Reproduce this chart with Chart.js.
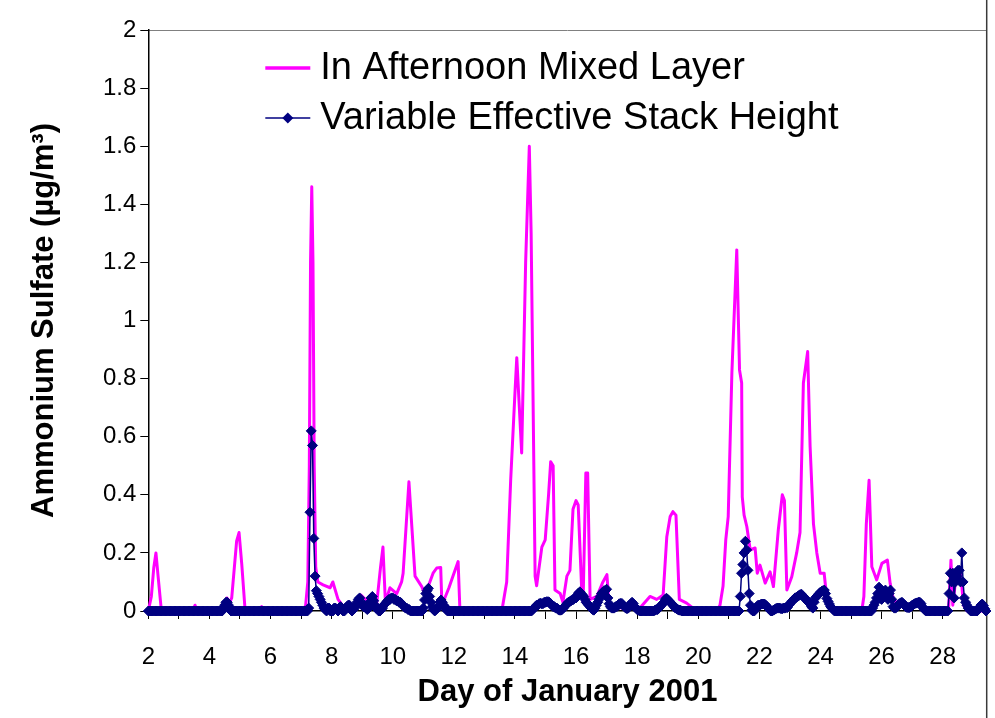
<!DOCTYPE html>
<html><head><meta charset="utf-8">
<script src="https://cdn.jsdelivr.net/npm/chart.js@4.4.1/dist/chart.umd.min.js"></script>
<style>html,body{margin:0;padding:0;background:#fff;}canvas{display:block;}</style>
</head><body>
<canvas id="c" width="995" height="718"></canvas>
<script>
// ---- text ----
const seriesNames = ['In Afternoon Mixed Layer', 'Variable Effective Stack Height'];
const xTitle = 'Day of January 2001';
const yTitle = 'Ammonium Sulfate (\u00B5g/m\u00B3)';
const xTickLabels = [2, 4, 6, 8, 10, 12, 14, 16, 18, 20, 22, 24, 26, 28];
const yTickLabels = ['0', '0.2', '0.4', '0.6', '0.8', '1', '1.2', '1.4', '1.6', '1.8', '2'];
const xRange = [2, 29.44];
const yRange = [0, 2];
const yStep = 0.2;

// ---- series 1: In Afternoon Mixed Layer (day, value) ----
const mixedDays = [2.00,2.10,2.18,2.25,2.32,2.42,2.50,3.45,3.53,3.60,4.42,4.57,4.67,4.73,4.89,4.97,5.06,5.17,5.64,5.71,5.78,
  7.08,7.15,7.22,7.27,7.31,7.35,7.39,7.43,7.48,7.55,7.72,7.95,8.04,8.21,8.35,8.60,8.85,8.96,9.10,9.30,9.48,9.60,9.68,9.76,9.91,
  10.13,10.29,10.34,10.53,10.73,10.95,11.06,11.32,11.44,11.57,11.61,11.84,11.97,12.14,12.20,12.55,12.62,12.69,
  13.57,13.73,13.86,14.00,14.06,14.22,14.35,14.47,14.53,14.66,14.71,14.88,14.99,15.10,15.17,15.25,15.31,15.48,15.57,15.70,15.80,
  15.90,16.00,16.07,16.19,16.23,16.32,16.38,16.46,16.68,16.88,17.01,17.08,17.50,18.09,18.42,18.64,18.85,18.97,19.08,19.17,19.27,
  19.38,19.62,19.83,20.06,20.60,20.71,20.81,20.90,20.98,21.10,21.26,21.35,21.42,21.44,21.50,21.59,21.70,21.86,21.93,22.02,22.19,
  22.35,22.46,22.62,22.75,22.82,22.90,23.06,23.22,23.33,23.44,23.58,23.66,23.77,23.88,23.99,24.12,24.21,24.35,24.50,
  25.35,25.42,25.50,25.59,25.68,25.84,26.01,26.19,26.28,26.39,26.61,27.26,27.40,28.19,28.27,28.33,28.46,28.57,28.68,28.80,29.44];
const mixedValues = [0,0.05,0.15,0.20,0.12,0.01,0,0,0.02,0,0,0.045,0.03,0.045,0.24,0.27,0.16,0,0,0.015,0,
  0,0.02,0.10,0.50,1.20,1.46,1.20,0.50,0.15,0.10,0.09,0.08,0.10,0.04,0.02,0.01,0.04,0.055,0.04,0.035,0.03,0.15,0.22,0.03,0.08,
  0.06,0.10,0.13,0.445,0.12,0.084,0.055,0.13,0.148,0.15,0.02,0.08,0.12,0.17,0,0,0.01,0,
  0,0.10,0.45,0.75,0.872,0.544,1.20,1.60,1.30,0.12,0.087,0.22,0.245,0.40,0.514,0.50,0.072,0.06,0.03,0.12,0.14,
  0.35,0.38,0.365,0.06,0.03,0.475,0.475,0.04,0.05,0.10,0.125,0.02,0.01,0.01,0.05,0.04,0.055,0.256,0.325,0.342,0.33,
  0.04,0.027,0.01,0,0,0.02,0.085,0.245,0.325,0.82,1.243,0.83,0.785,0.393,0.33,0.29,0.21,0.217,0.13,0.158,0.096,
  0.135,0.084,0.28,0.40,0.38,0.072,0.118,0.20,0.27,0.785,0.893,0.566,0.30,0.20,0.13,0.13,0.04,0.01,0,
  0,0.05,0.30,0.45,0.152,0.107,0.164,0.175,0.095,0.038,0.02,0.02,0,0,0.175,0.02,0.14,0.15,0.02,0,0];

// ---- series 2: Variable Effective Stack Height, hourly values from day 2, 00:00 ----
const stackStartDay = 2;
const stackHourly = [
  /* 2 */ 0,0,0,0,0,0,0,0,0,0,0,0,0,0,0,0,0,0,0,0,0,0,0,0,
  /* 3 */ 0,0,0,0,0,0,0,0,0,0,0,0,0,0,0,0,0,0,0,0,0,0,0,0,
  /* 4 */ 0,0,0,0,0,0,0,0,0,0,0,0.01,0.02,0.03,0.03,0.02,0.01,0,0,0,0,0,0,0,
  /* 5 */ 0,0,0,0,0,0,0,0,0,0,0,0,0,0,0,0,0,0,0,0,0,0,0,0,
  /* 6 */ 0,0,0,0,0,0,0,0,0,0,0,0,0,0,0,0,0,0,0,0,0,0,0,0,
  /* 7 */ 0,0,0,0,0,0,0.01,0.34,0.62,0.57,0.25,0.12,0.07,0.06,0.05,0.04,0.03,0.02,0.01,0.005,0,0.01,0.01,0,
  /* 8 */ 0,0,0.01,0.01,0.005,0,0.01,0.015,0.01,0,0,0.01,0.015,0.02,0.02,0.01,0,0.005,0.01,0.02,0.03,0.04,0.045,0.03,
  /* 9 */ 0.02,0.015,0.02,0.01,0.005,0.01,0.03,0.045,0.05,0.035,0.02,0.01,0.01,0,0,0.005,0.01,0.02,0.025,0.03,0.035,0.04,0.04,0.045,
  /*10 */ 0.045,0.04,0.04,0.035,0.035,0.03,0.03,0.025,0.02,0.015,0.01,0.01,0.005,0.005,0,0,0,0,0,0,0,0,0,0,
  /*11 */ 0.01,0.038,0.06,0.07,0.078,0.05,0.03,0.015,0.005,0,0.005,0.01,0.015,0.03,0.038,0.03,0.02,0.015,0.005,0,0,0,0,0,
  /*12 */ 0,0,0,0,0,0,0,0,0,0,0,0,0,0,0,0,0,0,0,0,0,0,0,0,
  /*13 */ 0,0,0,0,0,0,0,0,0,0,0,0,0,0,0,0,0,0,0,0,0,0,0,0,
  /*14 */ 0,0,0,0,0,0,0,0,0,0,0,0,0,0,0.005,0.01,0.015,0.02,0.02,0.025,0.027,0.025,0.025,0.03,
  /*15 */ 0.03,0.032,0.032,0.03,0.025,0.02,0.015,0.015,0.01,0.01,0.005,0.003,0.003,0.005,0.01,0.015,0.02,0.026,0.03,0.032,0.035,0.038,0.04,0.045,
  /*16 */ 0.045,0.055,0.062,0.066,0.06,0.055,0.05,0.04,0.03,0.025,0.02,0.015,0.01,0.005,0.003,0.01,0.02,0.03,0.04,0.05,0.06,0.065,0.07,0.07,
  /*17 */ 0.075,0.045,0.025,0.015,0.01,0.01,0.01,0.015,0.015,0.02,0.025,0.026,0.026,0.02,0.015,0.01,0.008,0.01,0.02,0.025,0.03,0.025,0.015,0.01,
  /*18 */ 0.005,0.003,0,0,0,0,0,0,0,0,0,0,0,0,0.003,0.005,0.005,0.01,0.015,0.02,0.025,0.03,0.04,0.044,
  /*19 */ 0.04,0.035,0.03,0.026,0.02,0.015,0.01,0.008,0.005,0.003,0.003,0,0,0,0,0,0,0,0,0,0,0,0,0,
  /*20 */ 0,0,0,0,0,0,0,0,0,0,0,0,0,0,0,0,0,0,0,0,0,0,0,0,
  /*21 */ 0,0,0,0,0,0,0,0,0,0.05,0.13,0.16,0.20,0.24,0.21,0.14,0.06,0.02,0.003,0,0,0.01,0.015,0.02,
  /*22 */ 0.02,0.022,0.024,0.024,0.024,0.02,0.015,0.01,0.005,0,0,0.003,0.005,0.008,0.01,0.01,0.01,0.008,0.008,0.01,0.01,0.012,0.012,0.02,
  /*23 */ 0.025,0.03,0.035,0.04,0.045,0.047,0.05,0.053,0.056,0.058,0.052,0.047,0.043,0.038,0.032,0.028,0.025,0.015,0.01,0.03,0.045,0.05,0.055,0.06,
  /*24 */ 0.065,0.068,0.07,0.072,0.06,0.043,0.033,0.024,0.015,0.01,0.005,0,0,0,0,0,0,0,0,0,0,0,0,0,
  /*25 */ 0,0,0,0,0,0,0,0,0,0,0,0,0,0,0,0,0,0.01,0.02,0.03,0.045,0.06,0.082,0.06,
  /*26 */ 0.04,0.05,0.065,0.072,0.055,0.04,0.06,0.072,0.04,0.015,0.01,0.01,0.015,0.02,0.025,0.028,0.03,0.025,0.02,0.015,0.012,0.012,0.012,0.015,
  /*27 */ 0.02,0.022,0.025,0.027,0.028,0.03,0.03,0.025,0.015,0.008,0.003,0,0,0,0,0,0,0,0,0,0,0,0,0,
  /*28 */ 0,0,0,0,0,0.06,0.13,0.10,0.13,0.045,0.10,0.12,0.14,0.14,0.10,0.20,0.10,0.045,0.03,0.02,0.01,0.005,0,0,
  /*29 */ 0,0,0,0,0.005,0.012,0.02,0.024,0.018,0.008,0
];

// ---- styling ----
const PINK = '#FF00FF';
const NAVY = '#000080';
const FONT = "'Liberation Sans', Arial, sans-serif";

const mixedData = mixedDays.map((d, i) => ({x: d, y: mixedValues[i]}));
const stackData = stackHourly.map((v, i) => ({x: stackStartDay + i / 24, y: v}));

const framePlugin = {
  id: 'frame',
  beforeDraw(chart) {
    const {ctx, chartArea: a, width, height} = chart;
    ctx.save();
    ctx.fillStyle = '#fff';
    ctx.fillRect(0, 0, width, height);
    ctx.strokeStyle = '#808080';
    ctx.lineWidth = 1;
    ctx.beginPath();
    ctx.moveTo(a.left, a.top + 0.5);
    ctx.lineTo(a.right, a.top + 0.5);
    ctx.stroke();
    ctx.strokeStyle = '#3a3a3a';
    ctx.lineWidth = 1.5;
    ctx.beginPath();
    ctx.moveTo(a.right, 0);
    ctx.lineTo(a.right, height);
    ctx.stroke();
    ctx.restore();
  }
};

const legendPlugin = {
  id: 'insideLegend',
  afterDatasetsDraw(chart) {
    const {ctx, chartArea: a} = chart;
    ctx.save();
    const x0 = a.left + 117, x1 = a.left + 162, tx = a.left + 172;
    const rows = [a.top + 38, a.top + 88];
    ctx.font = "38px " + FONT;
    ctx.fillStyle = '#000';
    ctx.textBaseline = 'middle';
    // row 1
    ctx.strokeStyle = PINK; ctx.lineWidth = 3.5;
    ctx.beginPath(); ctx.moveTo(x0, rows[0]); ctx.lineTo(x1, rows[0]); ctx.stroke();
    ctx.fillText(seriesNames[0], tx, rows[0] + 1);
    // row 2
    ctx.strokeStyle = NAVY; ctx.lineWidth = 1.5;
    ctx.beginPath(); ctx.moveTo(x0, rows[1]); ctx.lineTo(x1, rows[1]); ctx.stroke();
    const cx = (x0 + x1) / 2, r = 5.5;
    ctx.fillStyle = NAVY;
    ctx.beginPath();
    ctx.moveTo(cx - r, rows[1]); ctx.lineTo(cx, rows[1] - r); ctx.lineTo(cx + r, rows[1]); ctx.lineTo(cx, rows[1] + r);
    ctx.closePath(); ctx.fill();
    ctx.fillStyle = '#000';
    ctx.fillText(seriesNames[1], tx, rows[1] + 1);
    ctx.restore();
  }
};

new Chart(document.getElementById('c'), {
  type: 'line',
  data: {
    datasets: [
      {
        label: seriesNames[1],
        data: stackData,
        borderColor: NAVY,
        backgroundColor: NAVY,
        borderWidth: 1.5,
        pointStyle: 'rectRot',
        pointRadius: 5,
        pointBorderWidth: 1,
        pointBackgroundColor: NAVY,
        pointBorderColor: NAVY,
        tension: 0,
        clip: false,
        order: 0
      },
      {
        label: seriesNames[0],
        data: mixedData,
        borderColor: PINK,
        backgroundColor: PINK,
        borderWidth: 3,
        borderJoinStyle: 'round',
        borderCapStyle: 'round',
        pointRadius: 0,
        tension: 0,
        clip: false,
        order: 1
      }
    ]
  },
  options: {
    responsive: false,
    animation: false,
    devicePixelRatio: 1,
    layout: {padding: {left: 0, top: 30, right: 8.3, bottom: 0}},
    plugins: {legend: {display: false}, tooltip: {enabled: false}},
    scales: {
      x: {
        type: 'linear',
        min: xRange[0], max: xRange[1],
        afterFit(s) { s.height = 107; },
        afterBuildTicks(s) { s.ticks = s.ticks.filter(t => Number.isInteger(t.value)); },
        ticks: {
          stepSize: 1, autoSkip: false, maxRotation: 0, padding: 24,
          color: '#000', font: {family: FONT, size: 24},
          callback: v => xTickLabels.includes(v) ? String(v) : ''
        },
        grid: {drawOnChartArea: false, drawTicks: true, tickLength: 8, color: '#000', lineWidth: 1},
        border: {display: true, color: '#000', width: 1.5},
        title: {display: true, text: xTitle, color: '#000', font: {family: FONT, size: 31, weight: 'bold', lineHeight: 1.2}, padding: {top: 0, bottom: 7}}
      },
      y: {
        type: 'linear',
        min: yRange[0], max: yRange[1],
        afterFit(s) { s.width = 148.3; },
        ticks: {
          stepSize: yStep, padding: 4, color: '#000', font: {family: FONT, size: 24},
          callback: (v, i) => yTickLabels[i]
        },
        grid: {drawOnChartArea: false, drawTicks: true, tickLength: 8, color: '#000', lineWidth: 1},
        border: {display: true, color: '#000', width: 1.5},
        title: {display: true, text: yTitle, color: '#000', font: {family: FONT, size: 31, weight: 'bold', lineHeight: 1.2}, padding: {top: 26, bottom: 0}}
      }
    }
  },
  plugins: [framePlugin, legendPlugin]
});
</script>
</body></html>
